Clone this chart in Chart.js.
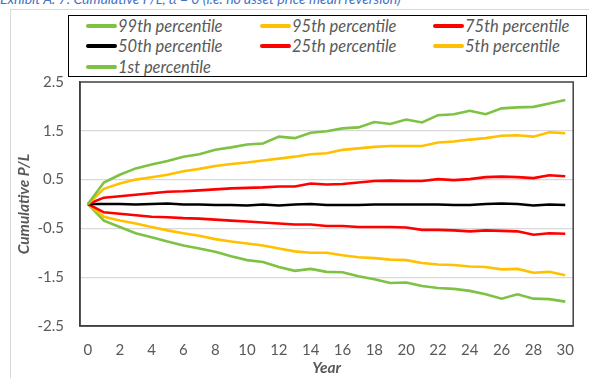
<!DOCTYPE html>
<html>
<head>
<meta charset="utf-8">
<script src="https://cdn.jsdelivr.net/npm/chart.js@4"></script>
<style>
  html, body { margin: 0; padding: 0; background: #fff; }
  body { width: 589px; height: 378px; position: relative; overflow: hidden; font-family: Lato, "Open Sans", sans-serif; }
  #title { position: absolute; left: 0; top: -10px; font-size: 14px; font-style: italic; color: #4472C4; white-space: nowrap; }
  #frame { position: absolute; left: 10px; top: 9px; width: 600px; height: 400px; border: 1px solid #d9d9d9; box-sizing: border-box; }
  #wrap { position: absolute; left: 0; top: 0; width: 589px; height: 378px; }
  #legend { position: absolute; left: 68px; top: 15px; width: 519px; height: 62px; border: 1.5px solid #000; box-sizing: border-box; background: #fff; }
  .item { position: absolute; height: 20px; display: flex; align-items: center; font-size: 16.5px; font-style: italic; color: #595959; white-space: nowrap; }
  .swatch { width: 31px; height: 4px; border-radius: 2px; margin-right: 1px; }
</style>
</head>
<body>
<div id="title">Exhibit A. 7: Cumulative P/L, α = 0 (i.e. no asset price mean reversion)</div>
<div id="frame"></div>
<div id="wrap"><canvas id="myChart" width="589" height="378"></canvas></div>
<div id="legend"></div>
<script>
const years = [0, 1, 2, 3, 4, 5, 6, 7, 8, 9, 10, 11, 12, 13, 14, 15, 16, 17, 18, 19, 20, 21, 22, 23, 24, 25, 26, 27, 28, 29, 30];
const yTicks = [-2.5, -1.5, -0.5, 0.5, 1.5, 2.5];

const p99 = [0, 0.44, 0.60, 0.73, 0.81, 0.88, 0.97, 1.02, 1.11, 1.16, 1.22, 1.24, 1.38, 1.35, 1.46, 1.49, 1.55, 1.57, 1.68, 1.64, 1.73, 1.67, 1.82, 1.84, 1.91, 1.84, 1.96, 1.98, 1.99, 2.06, 2.13];
const p95 = [0, 0.31, 0.42, 0.50, 0.55, 0.60, 0.67, 0.72, 0.78, 0.82, 0.85, 0.89, 0.93, 0.97, 1.02, 1.04, 1.11, 1.14, 1.17, 1.19, 1.19, 1.19, 1.26, 1.28, 1.32, 1.35, 1.40, 1.41, 1.38, 1.47, 1.45];
const p75 = [0, 0.13, 0.16, 0.19, 0.22, 0.25, 0.26, 0.28, 0.30, 0.32, 0.33, 0.34, 0.36, 0.36, 0.42, 0.40, 0.41, 0.44, 0.47, 0.48, 0.47, 0.47, 0.51, 0.49, 0.51, 0.55, 0.56, 0.55, 0.53, 0.59, 0.57];
const p50 = [0, 0, 0, -0.01, 0, 0.01, -0.01, -0.01, -0.02, -0.02, -0.03, -0.01, -0.03, -0.01, 0, -0.02, -0.02, -0.02, -0.01, -0.01, -0.01, -0.01, -0.01, -0.02, -0.02, 0, 0.01, 0, -0.03, -0.01, -0.02];
const p25 = [0, -0.17, -0.20, -0.23, -0.26, -0.27, -0.29, -0.30, -0.32, -0.34, -0.36, -0.38, -0.40, -0.42, -0.42, -0.45, -0.45, -0.47, -0.47, -0.47, -0.48, -0.53, -0.53, -0.54, -0.56, -0.54, -0.55, -0.56, -0.63, -0.60, -0.61];
const p5 = [0, -0.26, -0.34, -0.40, -0.47, -0.54, -0.60, -0.65, -0.72, -0.77, -0.81, -0.85, -0.91, -0.97, -1.00, -1.00, -1.05, -1.09, -1.11, -1.14, -1.15, -1.21, -1.24, -1.25, -1.28, -1.29, -1.34, -1.33, -1.41, -1.39, -1.46];
const p1 = [0, -0.34, -0.47, -0.60, -0.68, -0.77, -0.85, -0.91, -0.98, -1.07, -1.15, -1.19, -1.29, -1.37, -1.33, -1.39, -1.40, -1.48, -1.54, -1.62, -1.61, -1.68, -1.72, -1.74, -1.78, -1.85, -1.94, -1.85, -1.94, -1.95, -2.00];

const labels = ['99th percentile', '95th percentile', '75th percentile', '50th percentile', '25th percentile', '5th percentile', '1st percentile'];
const series = [p99, p95, p75, p50, p25, p5, p1];
const colors = ['#7DC242', '#FFC000', '#FF0000', '#000000', '#FF0000', '#FFC000', '#7DC242'];

const tickFont = { family: 'Lato', size: 15 };
const textGray = '#595959';

const ctx = document.getElementById('myChart').getContext('2d');
const myChart = new Chart(ctx, {
    type: 'line',
    data: {
        labels: years,
        datasets: series.map((s, i) => ({
            label: labels[i],
            data: s,
            borderColor: colors[i],
            backgroundColor: colors[i],
            borderWidth: 2.6,
            pointRadius: 0,
            tension: 0
        }))
    },
    options: {
        responsive: false,
        animation: false,
        events: [],
        layout: { padding: { top: 82, right: 3, left: 0, bottom: 0 } },
        plugins: { legend: { display: false }, tooltip: { enabled: false } },
        scales: {
            x: {
                offset: true,
                grid: { display: false, drawTicks: false },
                border: { display: true, color: '#404040', width: 1.5 },
                ticks: {
                    font: tickFont, color: textGray, padding: 15, maxRotation: 0,
                    callback: function (v, i) { return years[i] % 2 === 0 ? years[i] : null; },
                    autoSkip: false
                },
                title: { display: true, text: 'Year', color: textGray, font: { family: 'Lato', size: 15.5, style: 'italic', weight: 'bold' }, padding: { top: 0, bottom: 1 } },
                afterFit: s => { s.height = 52; }
            },
            y: {
                min: -2.5, max: 2.5,
                afterBuildTicks: s => { s.ticks = yTicks.map(v => ({ value: v })); },
                grid: { color: v => (Math.abs(v.tick.value) === 2.5 ? 'rgba(0,0,0,0)' : '#d9d9d9'), lineWidth: 1.3, drawTicks: false },
                border: { display: true, color: '#404040', width: 1.5 },
                ticks: { font: tickFont, color: textGray, padding: 16, callback: v => v.toFixed(1) },
                title: { display: true, text: 'Cumulative P/L', color: textGray, font: { family: 'Lato', size: 15.5, style: 'italic', weight: 'bold' }, padding: { top: 15, bottom: 0 } },
                afterFit: s => { s.width = 80; }
            }
        }
    },
    plugins: [{
        id: 'frameBorder',
        afterDraw(chart) {
            const a = chart.chartArea, c = chart.ctx;
            c.save();
            c.strokeStyle = '#404040';
            c.lineWidth = 1.5;
            c.strokeRect(a.left, a.top, a.right - a.left, a.bottom - a.top);
            c.restore();
        }
    }]
});

// legend in three columns, built from the chart's datasets
const legend = document.getElementById('legend');
const colX = [17, 191, 364];
const rowY = [0, 20, 41];
myChart.data.datasets.forEach((d, i) => {
    const el = document.createElement('div');
    el.className = 'item';
    el.style.left = colX[i % 3] + 'px';
    el.style.top = rowY[Math.floor(i / 3)] + 'px';
    el.innerHTML = '<span class="swatch" style="background:' + d.borderColor + '"></span>' + d.label;
    legend.appendChild(el);
});
</script>
</body>
</html>
